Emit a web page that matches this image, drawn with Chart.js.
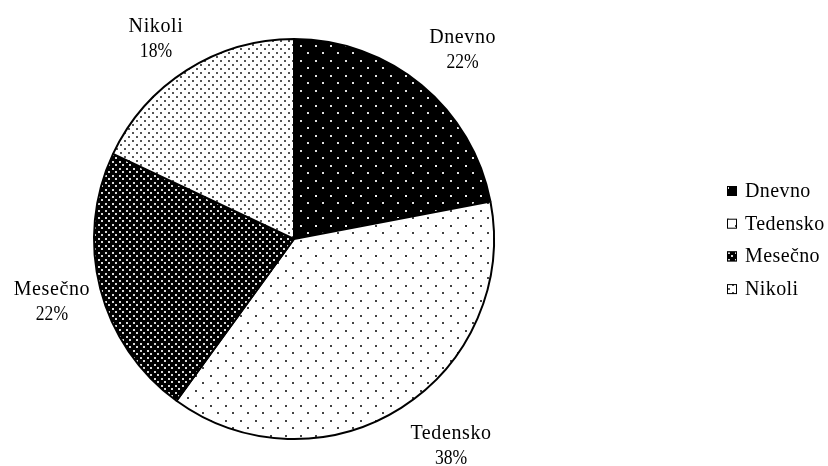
<!DOCTYPE html>
<html>
<head>
<meta charset="utf-8">
<script src="https://cdn.jsdelivr.net/npm/chart.js@4/dist/chart.umd.min.js"></script>
<style>
  html, body { margin: 0; padding: 0; background: #fff; }
  #wrap { width: 828px; height: 466px; position: relative; }
</style>
</head>
<body>
<div id="wrap"><canvas id="c"></canvas></div>
<script>
// Survey answers: how often
const categories = ['Dnevno', 'Tedensko', 'Mesečno', 'Nikoli'];
const shares = [22, 38, 22, 18];

// Small offsets (px) applied to each outside label after placing it on the mid-angle ray
const labelNudge = [[8, 3], [22, -8], [2, -2], [-3, 11]];

const FONT = '"Liberation Serif", "Times New Roman", serif';

// Dotted fill patterns: a square tile with two dots in a staggered grid
function dotPattern(bg, dot, tile, size) {
  const c = document.createElement('canvas');
  c.width = tile; c.height = tile;
  const g = c.getContext('2d');
  g.fillStyle = bg;
  g.fillRect(0, 0, tile, tile);
  g.fillStyle = dot;
  const h = Math.floor(tile / 2);
  g.fillRect(0, 0, size, size);
  g.fillRect(h, h, size, size);
  return g.createPattern(c, 'repeat');
}

const fills = [
  dotPattern('#000', '#e0e0e0', 15, 2),   // Dnevno
  dotPattern('#fff', '#444', 15, 2),      // Tedensko
  dotPattern('#000', '#d8d8d8', 7, 2),    // Mesečno
  dotPattern('#fff', '#555', 8, 2)        // Nikoli
];

// Text slightly condensed horizontally, as in the printed chart
function drawText(ctx, text, x, y, sx, spacing) {
  ctx.save();
  ctx.translate(x, y);
  ctx.scale(sx, 1);
  ctx.letterSpacing = spacing + 'px';
  ctx.fillText(text, 0, 0);
  ctx.restore();
}

// Category name and percentage outside each slice
const sliceLabels = {
  id: 'sliceLabels',
  afterDatasetsDraw(chart) {
    const ctx = chart.ctx;
    const meta = chart.getDatasetMeta(0);
    ctx.save();
    ctx.fillStyle = '#000';
    ctx.textAlign = 'center';
    ctx.textBaseline = 'alphabetic';
    ctx.font = '20px ' + FONT;
    meta.data.forEach((arc, i) => {
      const p = arc.getProps(['x', 'y', 'startAngle', 'endAngle', 'outerRadius'], true);
      const mid = (p.startAngle + p.endAngle) / 2;
      const r = p.outerRadius * 1.26;
      const cx = p.x + Math.cos(mid) * r + labelNudge[i][0];
      const cy = p.y + Math.sin(mid) * r + labelNudge[i][1];
      drawText(ctx, categories[i], cx, cy - 5, 1, 0.6);
      drawText(ctx, shares[i] + '%', cx, cy + 20, 0.88, 0);
    });
    ctx.restore();
  }
};

// Legend on the right: small swatch + category name
const sideLegend = {
  id: 'sideLegend',
  afterDraw(chart) {
    const ctx = chart.ctx;
    const ds = chart.data.datasets[0];
    ctx.save();
    ctx.font = '20px ' + FONT;
    ctx.textAlign = 'left';
    ctx.textBaseline = 'alphabetic';
    chart.data.labels.forEach((lab, i) => {
      const base = 197 + i * 32.7;
      const bx = 727, by = base - 11;
      ctx.fillStyle = ds.backgroundColor[i];
      ctx.fillRect(bx, by, 10, 10);
      ctx.strokeStyle = '#000';
      ctx.lineWidth = 1;
      ctx.strokeRect(bx + 0.5, by + 0.5, 9, 9);
      ctx.fillStyle = '#000';
      drawText(ctx, lab, 745, base, 1, 0.4);
    });
    ctx.restore();
  }
};

new Chart(document.getElementById('c'), {
  type: 'pie',
  data: {
    labels: categories,
    datasets: [{
      data: shares,
      backgroundColor: fills,
      borderColor: '#000',
      borderWidth: 2
    }]
  },
  options: {
    responsive: true,
    maintainAspectRatio: false,
    animation: false,
    events: [],
    layout: { padding: { left: 93, top: 38, right: 333, bottom: 26 } },
    plugins: {
      legend: { display: false },
      tooltip: { enabled: false },
      title: { display: false }
    }
  },
  plugins: [sliceLabels, sideLegend]
});
</script>
</body>
</html>
